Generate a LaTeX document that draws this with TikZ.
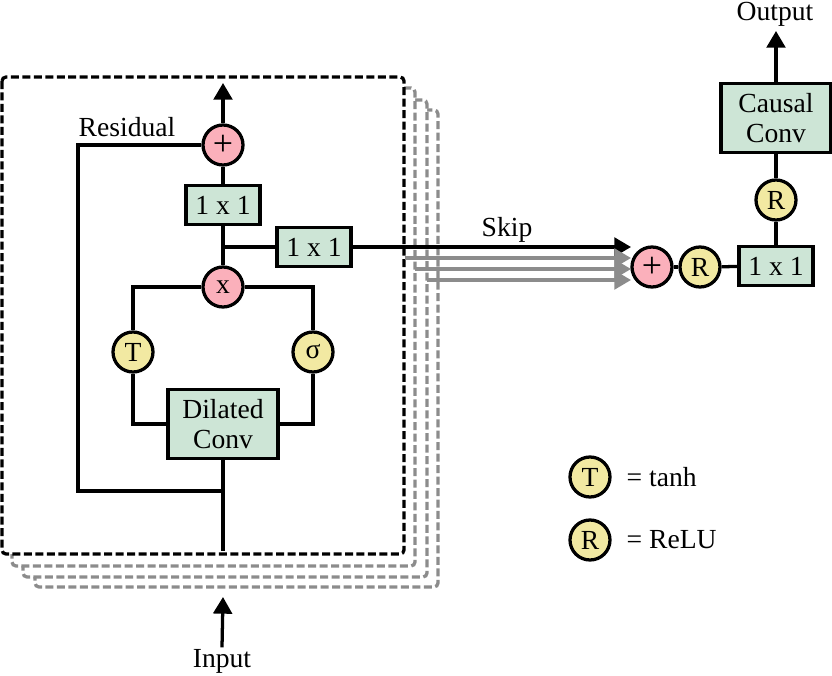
\documentclass[tikz,border=0pt]{standalone}
\usepackage{fontspec}
\setmainfont{Liberation Serif}
\usetikzlibrary{arrows.meta}
\definecolor{pinkc}{HTML}{FBB0BB}
\definecolor{greenc}{HTML}{CDE5D6}
\definecolor{yellowc}{HTML}{F2E9A2}
\definecolor{stackgray}{HTML}{8C8C8C}
\newcommand{\bigplus}{\scalebox{1.3}{+}}
\begin{document}
\begin{tikzpicture}[x=0.75pt,y=-0.75pt,
  font=\fontsize{20.7}{22}\selectfont,
  line width=2.45pt,
  box/.style={draw, fill=greenc, minimum width=55.5pt, minimum height=29pt, inner sep=0pt},
  bigbox/.style={box, minimum width=82.5pt, minimum height=52pt, align=center},
  opc/.style={circle, draw, minimum size=30pt, inner sep=0pt},
  addc/.style={opc, fill=pinkc},
  actc/.style={opc, fill=yellowc},
  label/.style={inner sep=0pt},
  arr/.style={-{Triangle[length=12.5pt,width=14pt]}},
  garr/.style={stackgray, line width=2.45pt, -{Triangle[length=12.5pt,width=14pt]}},
  dashbox/.style={dash pattern=on 6pt off 2.6pt, rounded corners=3pt, fill=white},
  stackbox/.style={dashbox, draw=stackgray}
]
\useasboundingbox (0,0) rectangle (832,675);

% stacked layers
\draw[stackbox] (35,110) rectangle (438,587);
\draw[stackbox] (23,100) rectangle (427,577);
\draw[stackbox] (12,88) rectangle (415,566);
\draw[dashbox] (2,77) rectangle (404,554);

% residual block
\node[addc] (plus1) at (223,145) {\bigplus};
\node[box] (c1) at (223,205) {1 x 1};
\coordinate (j) at (223,247);
\node[box] (c2) at (314,247) {1 x 1};
\node[addc] (mul) at (223,287) {x};
\node[actc] (tanh) at (133,352) {T};
\node[actc] (sig) at (313,352) {σ};
\node[bigbox] (dil) at (223,424) {Dilated\\Conv};
\coordinate (bot) at (223,551);
\coordinate (resb) at (223,491);
\coordinate (resc) at (78,491);
\coordinate (top) at (223,83);
\node[label] (res) at (127,127) {Residual};

\draw[arr] (plus1) -- (top);
\draw (plus1) -- (c1);
\draw (c1) -- (mul);
\draw (j) -- (c2);
\draw (mul.west) -| (tanh);
\draw (mul.east) -| (sig);
\draw (tanh) |- (dil.west);
\draw (sig) |- (dil.east);
\draw (dil) -- (bot);
\draw (plus1.west) -| (resc) -- (resb);

% skip connections
\coordinate (sk) at (631,247);
\draw[arr] (c2.east) -- (sk);
\node[label] (skip) at (507,230) {Skip};
\coordinate (g1s) at (405,258); \coordinate (g1e) at (631,258);
\coordinate (g2s) at (415,269); \coordinate (g2e) at (631,269);
\coordinate (g3s) at (427,280); \coordinate (g3e) at (631,280);
\draw[garr] (g1s) -- (g1e);
\draw[garr] (g2s) -- (g2e);
\draw[garr] (g3s) -- (g3e);

% output head
\node[addc] (plus2) at (652,267) {\bigplus};
\node[actc] (r1) at (700,267) {R};
\node[box] (c3) at (776,266) {1 x 1};
\node[actc] (r2) at (776,200) {R};
\node[bigbox] (causal) at (776,118) {Causal\\Conv};
\node[label] (out) at (775,14) {Output};
\coordinate (outtip) at (776,31);
\draw (plus2) -- (r1);
\draw (r1) -- (c3);
\draw (c3) -- (r2);
\draw (r2) -- (causal);
\draw[arr] (causal) -- (outtip);

% input
\node[label] (in) at (222,661) {Input};
\coordinate (intip) at (223,597);
\draw[arr] (in.north) -- (intip);

% legend
\node[actc] (lt) at (590,477) {T};
\node[label, anchor=west] (ltx) at (625,477) {= tanh};
\node[actc] (lr) at (590,540) {R};
\node[label, anchor=west] (lrx) at (625,540) {= ReLU};
\end{tikzpicture}
\end{document}
